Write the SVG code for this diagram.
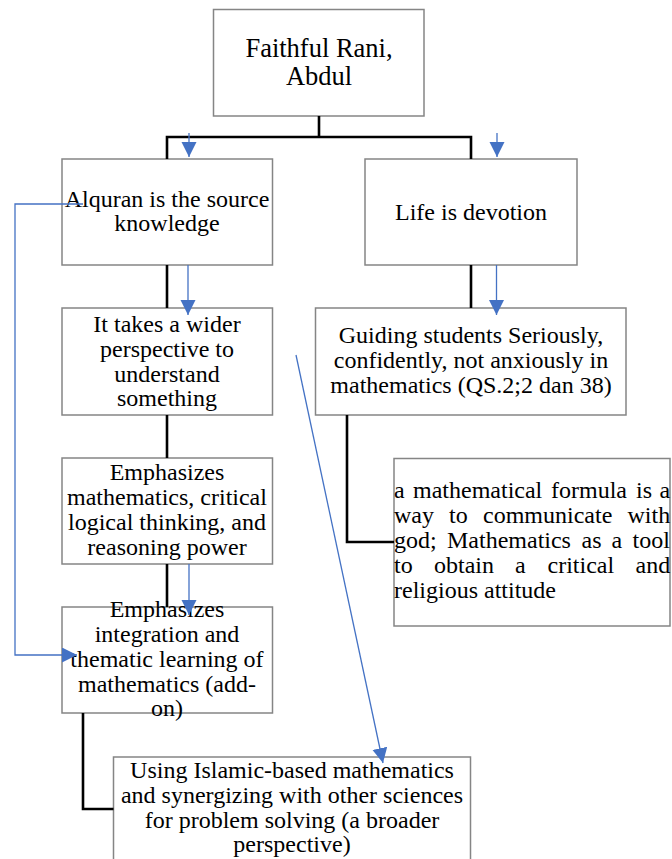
<svg xmlns="http://www.w3.org/2000/svg" width="672" height="859" viewBox="0 0 672 859">
  <style>
    .box { fill: #ffffff; stroke: #858585; stroke-width: 1.5; }
    .t { font-family: "Liberation Serif", "Times New Roman", serif; font-size: 24px; fill: #000000; }
    .big { font-size: 26.5px; }
    .c { text-anchor: middle; }
    .tree { fill: none; stroke: #000000; stroke-width: 2.6; }
    .flow { fill: none; stroke: #4472C4; stroke-width: 1.3; }
  </style>
  <defs>
    <marker id="arrow" markerUnits="userSpaceOnUse" markerWidth="16" markerHeight="16" refX="15" refY="7.5" orient="auto">
      <path d="M0,0 L15,7.5 L0,15 Z" fill="#4472C4"/>
    </marker>
  </defs>

  <rect width="672" height="859" fill="#ffffff"/>

  <!-- nodes -->
  <g id="node-root">
    <rect class="box" x="213.5" y="9.5" width="210.5" height="106.5"/>
    <text class="t c big" x="319" y="57">Faithful Rani,</text>
    <text class="t c big" x="319" y="85">Abdul</text>
  </g>

  <g id="node-alquran">
    <rect class="box" x="62" y="159" width="210.5" height="106"/>
    <text class="t c" x="167" y="207">Alquran is the source</text>
    <text class="t c" x="167" y="231">knowledge</text>
  </g>

  <g id="node-life">
    <rect class="box" x="365" y="159" width="212" height="106"/>
    <text class="t c" x="471" y="220">Life is devotion</text>
  </g>

  <g id="node-wider">
    <rect class="box" x="62" y="308" width="210.5" height="107"/>
    <text class="t c" x="167" y="332">It takes a wider</text>
    <text class="t c" x="167" y="357">perspective to</text>
    <text class="t c" x="167" y="381.5">understand</text>
    <text class="t c" x="167" y="406">something</text>
  </g>

  <g id="node-guiding">
    <rect class="box" x="315.5" y="308" width="310.5" height="107"/>
    <text class="t c" x="471" y="343">Guiding students Seriously,</text>
    <text class="t c" x="471" y="368">confidently, not anxiously in</text>
    <text class="t c" x="471" y="393">mathematics (QS.2;2 dan 38)</text>
  </g>

  <g id="node-critical">
    <rect class="box" x="62" y="458" width="210.5" height="106"/>
    <text class="t c" x="167" y="480">Emphasizes</text>
    <text class="t c" x="167" y="505">mathematics, critical</text>
    <text class="t c" x="167" y="530">logical thinking, and</text>
    <text class="t c" x="167" y="555">reasoning power</text>
  </g>

  <!-- justified paragraph: words placed one by one -->
  <g id="node-formula">
    <rect class="box" x="394" y="458.5" width="276" height="167.5"/>
    <text class="t" y="498"><tspan x="394">a</tspan><tspan x="413">mathematical</tspan><tspan x="551">formula</tspan><tspan x="636">is</tspan><tspan x="659.5">a</tspan></text>
    <text class="t" y="523"><tspan x="394">way</tspan><tspan x="449">to</tspan><tspan x="483">communicate</tspan><tspan x="627.5">with</tspan></text>
    <text class="t" y="548"><tspan x="394">god;</tspan><tspan x="447">Mathematics</tspan><tspan x="581.5">as</tspan><tspan x="611.5">a</tspan><tspan x="632.5">tool</tspan></text>
    <text class="t" y="573"><tspan x="394">to</tspan><tspan x="434">obtain</tspan><tspan x="515">a</tspan><tspan x="547.5">critical</tspan><tspan x="635.5">and</tspan></text>
    <text class="t" x="394" y="598">religious attitude</text>
  </g>

  <g id="node-integration">
    <rect class="box" x="62" y="607" width="210.5" height="106"/>
    <text class="t c" x="167" y="617">Emphasizes</text>
    <text class="t c" x="167" y="642">integration and</text>
    <text class="t c" x="167" y="667">thematic learning of</text>
    <text class="t c" x="167" y="692">mathematics (add-</text>
    <text class="t c" x="167" y="716">on)</text>
  </g>

  <g id="node-islamic">
    <rect class="box" x="113.5" y="757" width="357" height="120"/>
    <text class="t c" x="292" y="778">Using Islamic-based mathematics</text>
    <text class="t c" x="292" y="803">and synergizing with other sciences</text>
    <text class="t c" x="292" y="828">for problem solving (a broader</text>
    <text class="t c" x="292" y="852">perspective)</text>
  </g>

  <!-- connectors -->
  <g id="connectors">
    <!-- hierarchy lines -->
    <path class="tree" d="M319,116 V137"/>
    <path class="tree" d="M167,159 V137 H471 V159"/>
    <path class="tree" d="M167,265 V308"/>
    <path class="tree" d="M471,265 V308"/>
    <path class="tree" d="M167,415 V458"/>
    <path class="tree" d="M347,415 V542 H394"/>
    <path class="tree" d="M167,564 V607"/>
    <path class="tree" d="M83,713 V809 H113.5"/>

    <!-- flow arrows -->
    <path class="flow" d="M189,133 V157" marker-end="url(#arrow)"/>
    <path class="flow" d="M497,133 V157" marker-end="url(#arrow)"/>
    <path class="flow" d="M188,265 V315" marker-end="url(#arrow)"/>
    <path class="flow" d="M496.5,265 V315" marker-end="url(#arrow)"/>
    <path class="flow" d="M189,564 V615" marker-end="url(#arrow)"/>
    <path class="flow" d="M83,204 H15 V655 H77" marker-end="url(#arrow)"/>
    <path class="flow" d="M296,355 L383,763" marker-end="url(#arrow)"/>
  </g>
</svg>
